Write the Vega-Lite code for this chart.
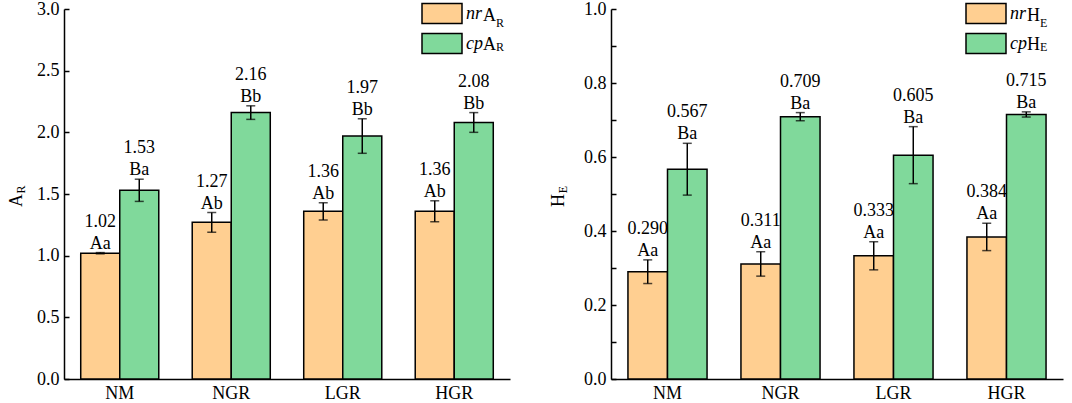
{
  "$schema": "https://vega.github.io/schema/vega-lite/v6.json",
  "background": "white",
  "padding": {"left": 7, "top": 0, "right": 12, "bottom": 0},
  "spacing": 39,
  "config": {
    "view": {"stroke": null},
    "axis": {
      "domainColor": "black", "domainWidth": 1.5,
      "tickColor": "black", "tickWidth": 1.5,
      "labelFont": "Liberation Serif", "labelFontSize": 18, "labelColor": "black",
      "titleFont": "Liberation Serif", "titleFontSize": 18, "titleColor": "black", "titleFontWeight": "normal",
      "grid": false
    },
    "legend": {"labelFont": "Liberation Serif", "labelFontSize": 18, "labelColor": "black", "padding": 0},
    "text": {"font": "Liberation Serif", "fontSize": 18, "color": "black"}
  },
  "datasets": {
    "ar": [
      {"g": "NM", "s": "nr", "value": 1.02, "lo": 1.015, "hi": 1.025, "sig": "Aa", "lab": "1.02"},
      {"g": "NM", "s": "cp", "value": 1.53, "lo": 1.44, "hi": 1.62, "sig": "Ba", "lab": "1.53"},
      {"g": "NGR", "s": "nr", "value": 1.27, "lo": 1.19, "hi": 1.35, "sig": "Ab", "lab": "1.27"},
      {"g": "NGR", "s": "cp", "value": 2.16, "lo": 2.105, "hi": 2.215, "sig": "Bb", "lab": "2.16"},
      {"g": "LGR", "s": "nr", "value": 1.36, "lo": 1.29, "hi": 1.43, "sig": "Ab", "lab": "1.36"},
      {"g": "LGR", "s": "cp", "value": 1.97, "lo": 1.83, "hi": 2.11, "sig": "Bb", "lab": "1.97"},
      {"g": "HGR", "s": "nr", "value": 1.36, "lo": 1.275, "hi": 1.445, "sig": "Ab", "lab": "1.36"},
      {"g": "HGR", "s": "cp", "value": 2.08, "lo": 2.0, "hi": 2.16, "sig": "Bb", "lab": "2.08"}
    ],
    "he": [
      {"g": "NM", "s": "nr", "value": 0.290, "lo": 0.258, "hi": 0.322, "sig": "Aa", "lab": "0.290"},
      {"g": "NM", "s": "cp", "value": 0.567, "lo": 0.497, "hi": 0.637, "sig": "Ba", "lab": "0.567"},
      {"g": "NGR", "s": "nr", "value": 0.311, "lo": 0.278, "hi": 0.344, "sig": "Aa", "lab": "0.311"},
      {"g": "NGR", "s": "cp", "value": 0.709, "lo": 0.698, "hi": 0.720, "sig": "Ba", "lab": "0.709"},
      {"g": "LGR", "s": "nr", "value": 0.333, "lo": 0.295, "hi": 0.371, "sig": "Aa", "lab": "0.333"},
      {"g": "LGR", "s": "cp", "value": 0.605, "lo": 0.528, "hi": 0.682, "sig": "Ba", "lab": "0.605"},
      {"g": "HGR", "s": "nr", "value": 0.384, "lo": 0.347, "hi": 0.421, "sig": "Aa", "lab": "0.384"},
      {"g": "HGR", "s": "cp", "value": 0.715, "lo": 0.708, "hi": 0.722, "sig": "Ba", "lab": "0.715"}
    ]
  },
  "resolve": {
    "scale": {"x": "independent", "y": "independent", "xOffset": "independent", "color": "independent", "opacity": "independent", "strokeWidth": "independent"},
    "axis": {"x": "independent", "y": "independent"},
    "legend": {"color": "independent", "opacity": "independent", "strokeWidth": "independent"}
  },
  "hconcat": [
    {
      "width": 446,
      "height": 370,
      "data": {"name": "ar"},
      "resolve": {"axis": {"y": "independent"}},
      "layer": [
        {
          "mark": {"type": "bar", "stroke": "black", "strokeWidth": 1.5},
          "encoding": {
            "x": {"field": "g", "type": "nominal", "sort": ["NM", "NGR", "LGR", "HGR"], "title": null,
                  "scale": {"paddingInner": 0.3, "paddingOuter": 0.15},
                  "axis": {"ticks": false, "labelAngle": 0, "labelPadding": 5}},
            "xOffset": {"field": "s", "type": "nominal", "sort": ["nr", "cp"], "scale": {"paddingInner": 0, "paddingOuter": 0}},
            "y": {"field": "value", "type": "quantitative", "scale": {"domain": [0, 3], "nice": false},
                  "axis": {"title": "A", "values": [0, 0.5, 1, 1.5, 2, 2.5, 3], "format": ".1f", "tickSize": -5, "labelPadding": 10,
                           "titleAngle": 270, "titleX": -47.5, "titleY": 191, "titleAlign": "center", "titleBaseline": "middle"}},
            "color": {"field": "s", "type": "nominal", "scale": {"domain": ["nr", "cp"], "range": ["#FFCF91", "#80D99B"]},
                      "legend": {"title": null, "orient": "none", "legendX": 367, "legendY": -6.5, "symbolType": "M-2,-1H2V1H-2Z", "symbolSize": 400,
                                 "symbolStrokeColor": "black", "symbolStrokeWidth": 1.5, "symbolOpacity": 1, "labelOffset": 13, "rowPadding": 4,
                                 "labelFontStyle": "italic"}},
            "opacity": {"field": "s", "type": "ordinal", "scale": {"range": [1, 1]},
                        "legend": {"title": null, "orient": "none", "legendX": 367, "legendY": -4, "symbolType": "M0,0", "symbolSize": 400,
                                   "symbolStrokeWidth": 1.5, "labelOffset": 30, "rowPadding": 9, "values": ["nr", "cp"], "labelExpr": "'A'"}},
            "strokeWidth": {"field": "g", "type": "ordinal", "scale": {"range": [1.5, 1.5]},
                            "legend": {"title": null, "orient": "none", "legendX": 367, "legendY": 3, "symbolType": "M0,0", "symbolSize": 400,
                                       "labelOffset": 43, "rowPadding": 7, "values": ["NM", "NGR"],
                                       "labelFontSize": 12, "labelExpr": "'R'"}}
          }
        },
        {
          "mark": {"type": "rule", "color": "black", "strokeWidth": 1.5},
          "encoding": {
            "x": {"field": "g", "type": "nominal", "sort": ["NM", "NGR", "LGR", "HGR"], "title": null},
            "xOffset": {"field": "s", "type": "nominal", "sort": ["nr", "cp"]},
            "y": {"field": "lo", "type": "quantitative", "axis": null},
            "y2": {"field": "hi"}
          }
        },
        {
          "mark": {"type": "tick", "orient": "horizontal", "size": 9, "thickness": 1.5, "color": "black"},
          "encoding": {
            "x": {"field": "g", "type": "nominal", "sort": ["NM", "NGR", "LGR", "HGR"], "title": null},
            "xOffset": {"field": "s", "type": "nominal", "sort": ["nr", "cp"]},
            "y": {"field": "lo", "type": "quantitative", "axis": null}
          }
        },
        {
          "mark": {"type": "tick", "orient": "horizontal", "size": 9, "thickness": 1.5, "color": "black"},
          "encoding": {
            "x": {"field": "g", "type": "nominal", "sort": ["NM", "NGR", "LGR", "HGR"], "title": null},
            "xOffset": {"field": "s", "type": "nominal", "sort": ["nr", "cp"]},
            "y": {"field": "hi", "type": "quantitative", "axis": null}
          }
        },
        {
          "mark": {"type": "text", "baseline": "alphabetic", "dy": -4},
          "encoding": {
            "x": {"field": "g", "type": "nominal", "sort": ["NM", "NGR", "LGR", "HGR"], "title": null},
            "xOffset": {"field": "s", "type": "nominal", "sort": ["nr", "cp"]},
            "y": {"field": "hi", "type": "quantitative",
                  "axis": {"title": "R", "orient": "left", "domain": false, "ticks": false, "labels": false, "titleFontSize": 12,
                           "titleAngle": 270, "titleX": -44, "titleY": 180, "titleAlign": "center", "titleBaseline": "middle"}},
            "text": {"field": "sig"}
          }
        },
        {
          "mark": {"type": "text", "baseline": "alphabetic", "dy": -26},
          "encoding": {
            "x": {"field": "g", "type": "nominal", "sort": ["NM", "NGR", "LGR", "HGR"], "title": null},
            "xOffset": {"field": "s", "type": "nominal", "sort": ["nr", "cp"]},
            "y": {"field": "hi", "type": "quantitative", "axis": null},
            "text": {"field": "lab"}
          }
        }
      ]
    },
    {
      "width": 452,
      "height": 370,
      "data": {"name": "he"},
      "resolve": {"axis": {"y": "independent"}},
      "layer": [
        {
          "mark": {"type": "bar", "stroke": "black", "strokeWidth": 1.5},
          "encoding": {
            "x": {"field": "g", "type": "nominal", "sort": ["NM", "NGR", "LGR", "HGR"], "title": null,
                  "scale": {"paddingInner": 0.3, "paddingOuter": 0.15},
                  "axis": {"ticks": false, "labelAngle": 0, "labelPadding": 5}},
            "xOffset": {"field": "s", "type": "nominal", "sort": ["nr", "cp"], "scale": {"paddingInner": 0, "paddingOuter": 0}},
            "y": {"field": "value", "type": "quantitative", "scale": {"domain": [0, 1], "nice": false},
                  "axis": {"title": "H", "values": [0, 0.1, 0.2, 0.3, 0.4, 0.5, 0.6, 0.7, 0.8, 0.9, 1],
                           "labelExpr": "round(datum.value * 10) % 2 === 0 ? format(datum.value, '.1f') : ''",
                           "tickSize": -5, "labelPadding": 10,
                           "titleAngle": 270, "titleX": -53, "titleY": 191, "titleAlign": "center", "titleBaseline": "middle"}},
            "color": {"field": "s", "type": "nominal", "scale": {"domain": ["nr", "cp"], "range": ["#FFCF91", "#80D99B"]},
                      "legend": {"title": null, "orient": "none", "legendX": 364, "legendY": -6.5, "symbolType": "M-2,-1H2V1H-2Z", "symbolSize": 400,
                                 "symbolStrokeColor": "black", "symbolStrokeWidth": 1.5, "symbolOpacity": 1, "labelOffset": 13, "rowPadding": 4,
                                 "labelFontStyle": "italic"}},
            "opacity": {"field": "s", "type": "ordinal", "scale": {"range": [1, 1]},
                        "legend": {"title": null, "orient": "none", "legendX": 364, "legendY": -4, "symbolType": "M0,0", "symbolSize": 400,
                                   "symbolStrokeWidth": 1.5, "labelOffset": 30, "rowPadding": 9, "values": ["nr", "cp"], "labelExpr": "'H'"}},
            "strokeWidth": {"field": "g", "type": "ordinal", "scale": {"range": [1.5, 1.5]},
                            "legend": {"title": null, "orient": "none", "legendX": 364, "legendY": 3, "symbolType": "M0,0", "symbolSize": 400,
                                       "labelOffset": 43, "rowPadding": 7, "values": ["NM", "NGR"],
                                       "labelFontSize": 12, "labelExpr": "'E'"}}
          }
        },
        {
          "mark": {"type": "rule", "color": "black", "strokeWidth": 1.5},
          "encoding": {
            "x": {"field": "g", "type": "nominal", "sort": ["NM", "NGR", "LGR", "HGR"], "title": null},
            "xOffset": {"field": "s", "type": "nominal", "sort": ["nr", "cp"]},
            "y": {"field": "lo", "type": "quantitative", "axis": null},
            "y2": {"field": "hi"}
          }
        },
        {
          "mark": {"type": "tick", "orient": "horizontal", "size": 9, "thickness": 1.5, "color": "black"},
          "encoding": {
            "x": {"field": "g", "type": "nominal", "sort": ["NM", "NGR", "LGR", "HGR"], "title": null},
            "xOffset": {"field": "s", "type": "nominal", "sort": ["nr", "cp"]},
            "y": {"field": "lo", "type": "quantitative", "axis": null}
          }
        },
        {
          "mark": {"type": "tick", "orient": "horizontal", "size": 9, "thickness": 1.5, "color": "black"},
          "encoding": {
            "x": {"field": "g", "type": "nominal", "sort": ["NM", "NGR", "LGR", "HGR"], "title": null},
            "xOffset": {"field": "s", "type": "nominal", "sort": ["nr", "cp"]},
            "y": {"field": "hi", "type": "quantitative", "axis": null}
          }
        },
        {
          "mark": {"type": "text", "baseline": "alphabetic", "dy": -4},
          "encoding": {
            "x": {"field": "g", "type": "nominal", "sort": ["NM", "NGR", "LGR", "HGR"], "title": null},
            "xOffset": {"field": "s", "type": "nominal", "sort": ["nr", "cp"]},
            "y": {"field": "hi", "type": "quantitative",
                  "axis": {"title": "E", "orient": "left", "domain": false, "ticks": false, "labels": false, "titleFontSize": 12,
                           "titleAngle": 270, "titleX": -49, "titleY": 180, "titleAlign": "center", "titleBaseline": "middle"}},
            "text": {"field": "sig"}
          }
        },
        {
          "mark": {"type": "text", "baseline": "alphabetic", "dy": -26},
          "encoding": {
            "x": {"field": "g", "type": "nominal", "sort": ["NM", "NGR", "LGR", "HGR"], "title": null},
            "xOffset": {"field": "s", "type": "nominal", "sort": ["nr", "cp"]},
            "y": {"field": "hi", "type": "quantitative", "axis": null},
            "text": {"field": "lab"}
          }
        }
      ]
    }
  ]
}
